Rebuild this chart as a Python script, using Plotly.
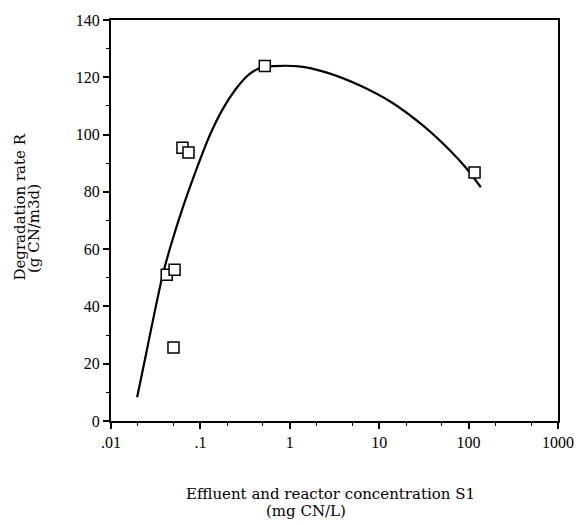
import plotly.graph_objects as go

# Measured data points (S1 in mg CN/L, R in g CN/m3d)
pts_x = [0.525, 0.063, 0.0736, 0.042, 0.0514, 0.050, 116.6]
pts_y = [123.9, 95.4, 93.7, 51.1, 52.8, 25.7, 86.8]

# Fitted curve
curve_x = [0.0196, 0.0239, 0.0308, 0.0381, 0.0472, 0.0635, 0.0896, 0.126, 0.177, 0.249,
           0.350, 0.472, 0.664, 1.259, 2.49, 5.84, 13.7, 32.2, 63.6, 93.3, 137]
curve_y = [8.3, 21.3, 38.1, 51.3, 61.8, 74.5, 87.6, 99.4, 108.8, 115.9,
           121.0, 123.3, 123.9, 123.8, 121.8, 117.4, 111.3, 102.7, 94.1, 88.4, 81.6]

x_tickvals = [0.01, 0.1, 1, 10, 100, 1000]
x_ticktext = [".01", ".1", "1", "10", "100", "1000"]
y_tickvals = [0, 20, 40, 60, 80, 100, 120, 140]

TICKFONT = "Liberation Serif"
TITLEFONT = "DejaVu Serif"

fig = go.Figure()
fig.add_trace(go.Scatter(x=curve_x, y=curve_y, mode="lines",
                         line=dict(color="black", width=2.2, shape="spline", smoothing=0.8),
                         hoverinfo="skip"))
fig.add_trace(go.Scatter(x=pts_x, y=pts_y, mode="markers",
                         marker=dict(symbol="square", size=11, color="white",
                                     line=dict(color="black", width=1.5))))

fig.update_layout(
    width=586, height=525,
    margin=dict(l=111, r=24, t=13, b=104),
    paper_bgcolor="white", plot_bgcolor="white",
    showlegend=False,
    font=dict(family=TICKFONT, size=14, color="black"),
    xaxis=dict(type="log", range=[-2, 3], tickvals=x_tickvals, ticktext=x_ticktext,
               ticks="outside", ticklen=6, tickwidth=1.5, tickcolor="black",
               minor=dict(ticks="outside", ticklen=3, tickwidth=1, tickcolor="black", showgrid=False),
               showline=True, linecolor="black", linewidth=2, mirror=True,
               showgrid=False, zeroline=False,
               tickfont=dict(family=TICKFONT, size=16, color="black")),
    yaxis=dict(range=[0, 140], tickvals=y_tickvals,
               ticks="outside", ticklen=6, tickwidth=1.5, tickcolor="black",
               minor=dict(dtick=10, ticks="outside", ticklen=3, tickwidth=1, tickcolor="black", showgrid=False),
               showline=True, linecolor="black", linewidth=2, mirror=True,
               showgrid=False, zeroline=False,
               tickfont=dict(family=TICKFONT, size=16, color="black")),
)

fig.add_annotation(text="Effluent and reactor concentration S1", xref="paper", yref="paper",
                   x=(332 - 111) / 451, y=-(495 - 421) / 408, showarrow=False,
                   font=dict(family=TITLEFONT, size=15), xanchor="center", yanchor="middle")
fig.add_annotation(text="(mg CN/L)", xref="paper", yref="paper",
                   x=(308 - 111) / 451, y=-(513 - 421) / 408, showarrow=False,
                   font=dict(family=TITLEFONT, size=15), xanchor="center", yanchor="middle")
fig.add_annotation(text="Degradation rate R", xref="paper", yref="paper",
                   x=-(111 - 19) / 451, y=(421 - 203) / 408, showarrow=False, textangle=-90,
                   font=dict(family=TITLEFONT, size=15), xanchor="center", yanchor="middle")
fig.add_annotation(text="(g CN/m3d)", xref="paper", yref="paper",
                   x=-(111 - 34) / 451, y=(421 - 225) / 408, showarrow=False, textangle=-90,
                   font=dict(family=TITLEFONT, size=15), xanchor="center", yanchor="middle")

fig.write_html("out.html")
